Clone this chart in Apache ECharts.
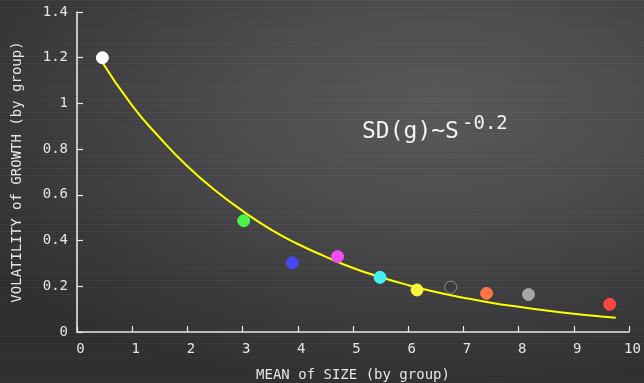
<!DOCTYPE html>
<html>
<head>
<meta charset="utf-8">
<script src="https://cdn.jsdelivr.net/npm/echarts@6/dist/echarts.min.js"></script>
<style>
html,body{margin:0;padding:0;width:644px;height:383px;overflow:hidden;}
body{
  background:
    repeating-linear-gradient(180deg, rgba(255,255,255,0.03) 0px, rgba(255,255,255,0.03) 1px, rgba(0,0,0,0.035) 1px, rgba(0,0,0,0.035) 2px, rgba(255,255,255,0) 2px, rgba(255,255,255,0) 5px, rgba(0,0,0,0.045) 5px, rgba(0,0,0,0.045) 7px),
    radial-gradient(ellipse 85% 75% at 68% 28%, #5a5a5d 0%, #4c4c4f 40%, #3b3b3d 75%, #303032 100%);
}
#chart{width:644px;height:383px;}
</style>
</head>
<body>
<div id="chart"></div>
<script>
// group points (mean size, volatility)
const groupX = [0.46, 3.02, 3.90, 4.72, 5.49, 6.16, 6.77, 7.42, 8.18, 9.65];
const groupY = [1.20, 0.487, 0.303, 0.330, 0.239, 0.184, 0.196, 0.169, 0.164, 0.121];
// fitted curve
const curveX = [0.38, 1.0, 1.5, 2.0, 2.5, 3.0, 3.5, 4.0, 4.5, 5.0, 5.5, 6.0, 6.5, 7.0, 7.5, 8.0, 8.5, 9.0, 9.5, 9.76];
const curveY = [1.21, 0.99, 0.85, 0.725, 0.62, 0.53, 0.45, 0.385, 0.33, 0.28, 0.24, 0.205, 0.175, 0.15, 0.128, 0.11, 0.094, 0.08, 0.068, 0.062];
const yTicks = [0, 0.2, 0.4, 0.6, 0.8, 1, 1.2, 1.4];
const xTicks = [0, 1, 2, 3, 4, 5, 6, 7, 8, 9, 10];

const dotColors = ['#ffffff', '#4cf04c', '#4848f2', '#f24cf2', '#44f0f0', '#f6f640', '#3c3c3e', '#ff7444', '#a6a6a6', '#ff4444'];
const dotBorders = ['#ffffff', '#4cf04c', '#4848f2', '#f24cf2', '#44f0f0', '#f6f640', '#8a8a8a', '#ff7444', '#a6a6a6', '#ff4444'];

const font = '"DejaVu Sans Mono", monospace';
const chart = echarts.init(document.getElementById('chart'), null, {renderer: 'canvas'});
chart.setOption({
  backgroundColor: 'transparent',
  animation: false,
  grid: {left: 77, right: 15, top: 12, bottom: 51, containLabel: false, outerBoundsMode: 'none'},
  xAxis: {
    type: 'value', min: xTicks[0], max: xTicks[xTicks.length - 1], interval: 1,
    name: 'MEAN of SIZE (by group)', nameLocation: 'middle', nameGap: 36,
    nameTextStyle: {color: '#e6e6e6', fontFamily: font, fontSize: 14},
    axisLine: {show: true, lineStyle: {color: '#e8e8e8', width: 1.6}},
    axisTick: {show: true, inside: true, length: 6, lineStyle: {color: '#e8e8e8', width: 1.2}},
    axisLabel: {color: '#e6e6e6', fontFamily: font, fontSize: 14, margin: 10, padding: [0, 0, 0, 7]},
    splitLine: {show: false}
  },
  yAxis: {
    type: 'value', min: yTicks[0], max: yTicks[yTicks.length - 1], interval: 0.2,
    name: 'VOLATILITY of GROWTH (by group)', nameLocation: 'middle', nameGap: 53,
    nameTextStyle: {color: '#e6e6e6', fontFamily: font, fontSize: 14},
    axisLine: {show: true, lineStyle: {color: '#e8e8e8', width: 1.6}},
    axisTick: {show: true, inside: true, length: 6, lineStyle: {color: '#e8e8e8', width: 1.2}},
    axisLabel: {color: '#e6e6e6', fontFamily: font, fontSize: 14, margin: 9},
    splitLine: {show: false}
  },
  graphic: [
    {
      type: 'text', x: 362, y: 121, z: 10,
      style: {text: 'SD(g)~S', font: '23px "DejaVu Sans Mono", monospace', fill: '#f2f2f2', textVerticalAlign: 'top'}
    },
    {
      type: 'text', x: 462, y: 115, z: 10,
      style: {text: '-0.2', font: '19px "DejaVu Sans Mono", monospace', fill: '#f2f2f2', textVerticalAlign: 'top'}
    }
  ],
  series: [
    {
      type: 'line', smooth: true, symbol: 'none', z: 2,
      lineStyle: {color: '#ffff00', width: 2},
      data: curveX.map((x, i) => [x, curveY[i]])
    },
    {
      type: 'scatter', symbolSize: 12, z: 3,
      data: groupX.map((x, i) => ({
        value: [x, groupY[i]],
        itemStyle: {color: dotColors[i], borderColor: dotBorders[i], borderWidth: 1, opacity: 1}
      }))
    }
  ]
});
</script>
</body>
</html>
